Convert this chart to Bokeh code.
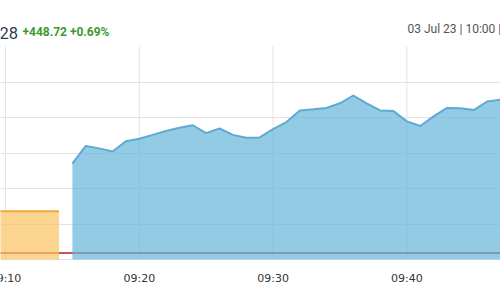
import pandas as pd
from bokeh.plotting import figure
from bokeh.models import (ColumnDataSource, FixedTicker, Grid, Label, Range1d, Span)
from bokeh.embed import file_html
from bokeh.resources import INLINE

# ---- data ----
day = "2023-07-03 "
times = ["09:15", "09:16", "09:17", "09:18", "09:19", "09:20", "09:21", "09:22",
         "09:23", "09:24", "09:25", "09:26", "09:27", "09:28", "09:29", "09:30",
         "09:31", "09:32", "09:33", "09:34", "09:35", "09:36", "09:37", "09:38",
         "09:39", "09:40", "09:41", "09:42", "09:43", "09:44", "09:45", "09:46", "09:47"]
values = [64970, 65020, 65013, 65004, 65033, 65040, 65051, 65062,
          65071, 65078, 65056, 65069, 65051, 65043, 65044, 65067,
          65087, 65120, 65123, 65127, 65140, 65162, 65140, 65120,
          65118, 65089, 65076, 65103, 65127, 65126, 65121, 65145, 65150]
preopen_times = ["09:00", "09:14"]
preopen_values = [64836.16, 64836.16]
prev_close = 64718.56
tick_times = ["09:10", "09:20", "09:30", "09:40"]
tick_labels = ["09:10", "09:20", "09:30", "09:40"]
y_grid_values = [64700, 64800, 64900, 65000, 65100, 65200]
y_top = 65300
header_last = "28"
header_change = "+448.72 +0.69%"
header_date = "03 Jul 23 | 10:00 |"

t = pd.to_datetime([day + s for s in times])
tp = pd.to_datetime([day + s for s in preopen_times])
tt = pd.to_datetime([day + s for s in tick_times])

base = y_grid_values[0]
src = ColumnDataSource(dict(t=t, v=values, b=[base] * len(values)))
psrc = ColumnDataSource(dict(t=tp, v=preopen_values, b=[base] * len(preopen_values)))

# layout calibration: 0.355 px per point, baseline of the area at canvas y=259
PX = 0.355
y_lo = base - 41 / PX
y_hi = base + 259 / PX
label_y = base - 18.7 / PX

x0 = pd.Timestamp(day + "09:09:37.6")
x1 = pd.Timestamp(day + "09:47:00")

p = figure(width=500, height=300, x_axis_type="datetime",
           x_axis_location=None, y_axis_location=None,
           output_backend="svg", toolbar_location=None,
           x_range=Range1d(x0, x1), y_range=Range1d(y_lo, y_hi))
p.min_border = 0
p.outline_line_color = None
p.background_fill_color = "white"
p.border_fill_color = "white"
p.xgrid.visible = False
p.ygrid.visible = False

grid_col = "#e3e3e3"
p.add_layout(Grid(dimension=1, ticker=FixedTicker(ticks=y_grid_values),
                  grid_line_color=grid_col, level="underlay"))
gsrc = ColumnDataSource(dict(x=tt, y0=[base] * len(tt), y1=[y_top] * len(tt)))
p.segment(x0="x", x1="x", y0="y0", y1="y1", source=gsrc, line_color=grid_col,
          line_width=1, level="underlay")

# tick labels
lsrc = ColumnDataSource(dict(x=tt, y=[label_y] * len(tt), text=tick_labels))
p.text(x="x", y="y", text="text", source=lsrc, text_align="center",
       text_baseline="alphabetic", text_font={"value": "DejaVu Sans"},
       text_font_size="11px", text_color="#333333")

# pre-open block
p.varea(x="t", y1="b", y2="v", source=psrc, fill_color="#fbc462", fill_alpha=0.7)
p.line(x="t", y="v", source=psrc, line_color="#f2a53a", line_width=2)

# previous close line
p.add_layout(Span(location=prev_close, dimension="width", line_color="#d05060",
                  line_width=2, level="underlay"))

# intraday area
p.varea(x="t", y1="b", y2="v", source=src, fill_color="#65b5da", fill_alpha=0.7)
p.line(x="t", y="v", source=src, line_color="#5eaad0", line_width=2)

# header texts (screen units, origin bottom-left of canvas)
p.add_layout(Label(x=-1, y=300 - 32.7, x_units="screen", y_units="screen",
                   text=header_last, text_font="Roboto", text_font_size="16.5px",
                   text_color="#2c3e50", text_baseline="alphabetic"))
p.add_layout(Label(x=22, y=300 - 31.7, x_units="screen", y_units="screen",
                   text=header_change, text_font="Roboto", text_font_size="12px",
                   text_font_style="bold", text_color="#3a9b2e",
                   text_baseline="alphabetic"))
p.add_layout(Label(x=407, y=300 - 28.3, x_units="screen", y_units="screen",
                   text=header_date, text_font="Roboto", text_font_size="12px",
                   text_color="#555555", text_baseline="alphabetic"))

open("out.html", "w").write(file_html(p, INLINE))
